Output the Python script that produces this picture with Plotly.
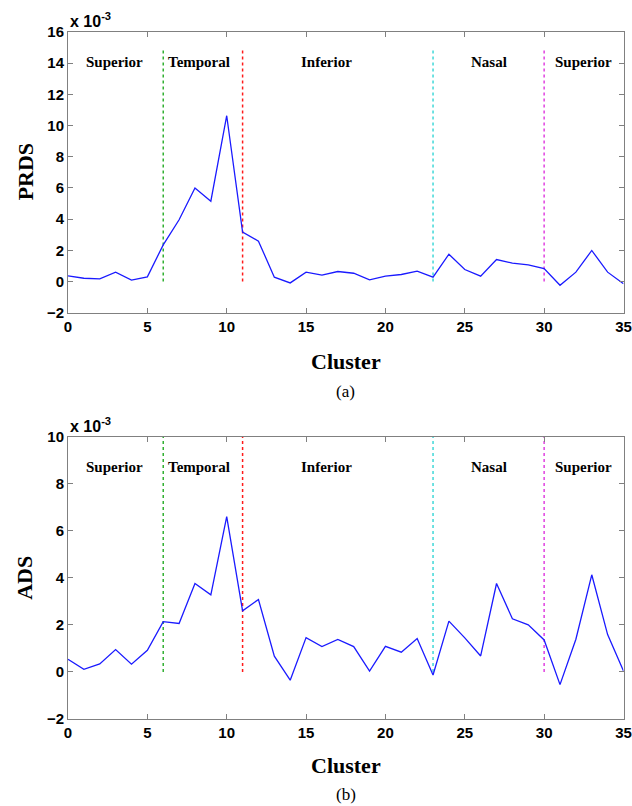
import plotly.graph_objects as go

clusters = list(range(36))
prds = [0.36, 0.21, 0.17, 0.60, 0.09, 0.30, 2.35, 3.96, 6.00, 5.15,
        10.63, 3.17, 2.59, 0.28, -0.09, 0.60, 0.41, 0.64, 0.53, 0.11,
        0.34, 0.45, 0.66, 0.28, 1.75, 0.77, 0.34, 1.41, 1.18, 1.07,
        0.83, -0.24, 0.60, 1.99, 0.60, -0.15]
ads = [0.54, 0.11, 0.34, 0.95, 0.33, 0.92, 2.14, 2.06, 3.76, 3.28,
       6.60, 2.60, 3.08, 0.67, -0.35, 1.46, 1.08, 1.38, 1.08, 0.04,
       1.09, 0.84, 1.42, -0.13, 2.16, 1.45, 0.68, 3.76, 2.26, 2.00,
       1.36, -0.54, 1.39, 4.13, 1.59, 0.04]
boundaries = [6, 11, 23, 30]
boundary_colors = ["#33b033", "#ff1a1a", "#40d8d8", "#e040e0"]
region_names = ["Superior", "Temporal", "Inferior", "Nasal", "Superior"]
region_centers = [2.9, 8.25, 16.3, 26.5, 32.5]
top_line_height = [15, 10]
label_height = [14.1, 8.7]
y_ranges = [[-2, 16], [-2, 10]]
y_titles = ["PRDS", "ADS"]
panel_tags = ["(a)", "(b)"]

W, H = 632, 806
x_dom = [68 / W, 623.5 / W]
y_doms = [[1 - 312.7 / H, 1 - 32 / H], [1 - 719 / H, 1 - 436.7 / H]]

fig = go.Figure()
series = [prds, ads]
for i in range(2):
    xa = "x" if i == 0 else "x2"
    ya = "y" if i == 0 else "y2"
    for b, c in zip(boundaries, boundary_colors):
        fig.add_trace(go.Scatter(x=[b, b], y=[0, top_line_height[i]], mode="lines",
                                 line=dict(color=c, width=1.5, dash="dot"),
                                 xaxis=xa, yaxis=ya, showlegend=False, hoverinfo="skip"))
    fig.add_trace(go.Scatter(x=clusters, y=series[i], mode="lines",
                             line=dict(color="#1a1aff", width=1.3),
                             xaxis=xa, yaxis=ya, showlegend=False))
    for name, cx in zip(region_names, region_centers):
        fig.add_annotation(x=cx, y=label_height[i], xref=xa, yref=ya, text="<b>%s</b>" % name,
                           showarrow=False, xanchor="center", yanchor="middle",
                           font=dict(family="Liberation Serif", size=15, color="black"))

axis_common = dict(showline=True, linecolor="#808080", linewidth=1, mirror="ticks",
                   ticks="inside", ticklen=5, tickcolor="#808080", zeroline=False,
                   showgrid=False, automargin=False,
                   tickfont=dict(family="Liberation Sans", size=15, color="black", weight="bold"))

fig.update_layout(
    width=W, height=H, margin=dict(l=0, r=0, t=0, b=0, pad=0, autoexpand=False),
    plot_bgcolor="white", paper_bgcolor="white",
    xaxis=dict(domain=x_dom, range=[0, 35], dtick=5, anchor="y", **axis_common),
    yaxis=dict(domain=y_doms[0], range=y_ranges[0], dtick=2, anchor="x", **axis_common),
    xaxis2=dict(domain=x_dom, range=[0, 35], dtick=5, anchor="y2", **axis_common),
    yaxis2=dict(domain=y_doms[1], range=y_ranges[1], dtick=2, anchor="x2", **axis_common),
)

title_font = dict(family="Liberation Serif", size=22, color="black")
cx_paper = (x_dom[0] + x_dom[1]) / 2
for i, (ytitle, tag) in enumerate(zip(y_titles, panel_tags)):
    d = y_doms[i]
    fig.add_annotation(x=cx_paper, y=1 - (361 if i == 0 else 765) / H, xref="paper", yref="paper",
                       xanchor="center", yanchor="middle",
                       text="<b>Cluster</b>", showarrow=False, font=title_font)
    fig.add_annotation(x=cx_paper, y=1 - (391 if i == 0 else 794) / H, xref="paper", yref="paper",
                       xanchor="center", yanchor="middle",
                       text=tag, showarrow=False,
                       font=dict(family="Liberation Serif", size=17, color="black"))
    fig.add_annotation(x=25 / W, y=(d[0] + d[1]) / 2, xref="paper", yref="paper",
                       xanchor="center", yanchor="middle",
                       text="<b>%s</b>" % ytitle, textangle=-90, showarrow=False, font=title_font)
    fig.add_annotation(x=68 / W, y=d[1], xref="paper", yref="paper", xanchor="left", yanchor="bottom",
                       text="<b>x 10<sup>-3</sup></b>", showarrow=False,
                       font=dict(family="Liberation Sans", size=16, color="black"))

fig.write_html("out.html", config={"displayModeBar": False},
               post_script="document.body.style.margin='0';document.body.style.overflow='hidden';")
